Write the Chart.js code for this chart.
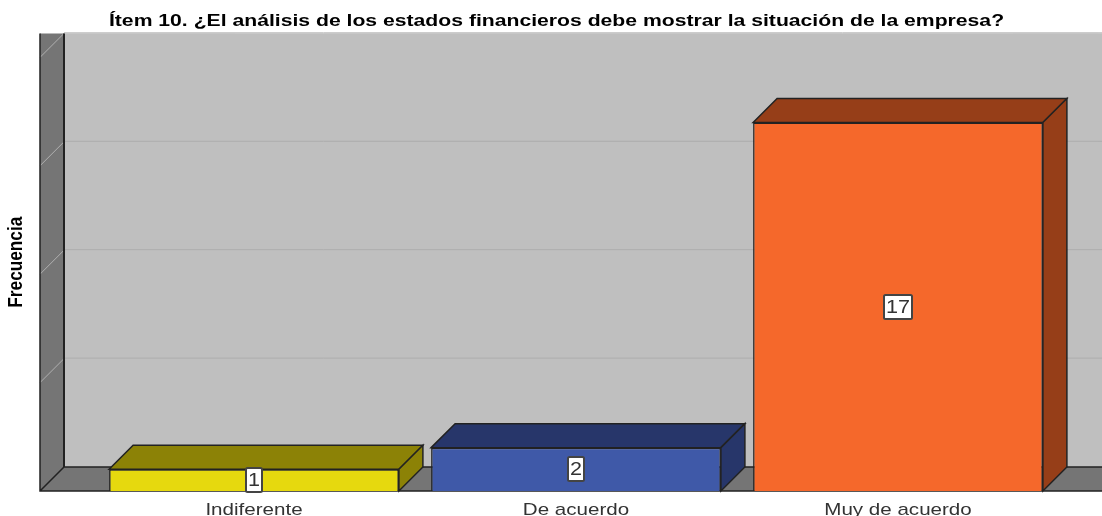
<!DOCTYPE html>
<html>
<head>
<meta charset="utf-8">
<title>Ítem 10</title>
<script src="https://cdn.jsdelivr.net/npm/chart.js@4"></script>
<style>
    html, body { margin: 0; padding: 0; background: #fff; overflow: hidden; }
    canvas { display: block; }
</style>
</head>
<body>
<canvas id="chart" width="1102" height="516"></canvas>
<script>
var TITLE = 'Ítem 10. ¿El análisis de los estados financieros debe mostrar la situación de la empresa?';
var Y_TITLE = 'Frecuencia';
var categories = ['Indiferente', 'De acuerdo', 'Muy de acuerdo'];
var values = [1, 2, 17];
var frontColors = ['#e6d90e', '#3f59a8', '#f5682b'];
var shadeColors = ['#8c8206', '#27366a', '#963e18'];

var DEPTH = 24;      // 3D offset of the back plane
var WALL_LEFT = 53;  // distance from the first category edge to the wall
var LINE = '#222222';

// the reference text is stretched sideways, no installed font is that wide
function withStretch(ctx, sx, dx, fn) {
    var fillText = ctx.fillText;
    ctx.fillText = function (text, x, y) {
        this.save();
        this.translate(x + dx, y);
        this.scale(sx, 1);
        fillText.call(this, text, 0, 0);
        this.restore();
    };
    fn();
    delete ctx.fillText;
}

function wrapDraw(owner, method, ctx, sx, dx) {
    var orig = owner[method];
    owner[method] = function () {
        var self = this, args = arguments;
        withStretch(ctx, sx, dx, function () { orig.apply(self, args); });
    };
}

function poly(ctx, pts, fill, stroke, width) {
    ctx.beginPath();
    ctx.moveTo(pts[0][0], pts[0][1]);
    for (var i = 1; i < pts.length; i++) ctx.lineTo(pts[i][0], pts[i][1]);
    ctx.closePath();
    if (fill) { ctx.fillStyle = fill; ctx.fill(); }
    if (stroke) { ctx.strokeStyle = stroke; ctx.lineWidth = width || 1.5; ctx.stroke(); }
}

var room3d = {
    id: 'room3d',
    afterLayout: function (chart) {
        wrapDraw(chart.titleBlock, 'draw', chart.ctx, 1.245, 25);
        wrapDraw(chart.scales.x, 'drawLabels', chart.ctx, 1.21, 0);
        wrapDraw(chart.scales.y, 'drawTitle', chart.ctx, 0.82, 12);
    },
    beforeDatasetsDraw: function (chart) {
        var ctx = chart.ctx, a = chart.chartArea, y = chart.scales.y;
        var x0 = a.left - WALL_LEFT, x1 = x0 + DEPTH, right = chart.width;
        var top = a.top - DEPTH, bottom = a.bottom;
        ctx.save();
        // back wall, side wall, floor
        ctx.fillStyle = '#bfbfbf';
        ctx.fillRect(x1, top, right - x1, bottom - DEPTH - top);
        poly(ctx, [[x0, top], [x1, top], [x1, bottom - DEPTH], [x0, bottom]], '#757575');
        poly(ctx, [[x0, bottom], [x1, bottom - DEPTH], [right + 2, bottom - DEPTH], [right + 2, bottom]], '#757575');
        // gridlines on the back wall, diagonals on the side wall
        y.ticks.forEach(function (t) {
            if (t.value === 0) return;
            var py = y.getPixelForValue(t.value);
            ctx.strokeStyle = '#adadad';
            ctx.lineWidth = 1;
            ctx.beginPath();
            ctx.moveTo(x1, py - DEPTH - 0.5);
            ctx.lineTo(right, py - DEPTH - 0.5);
            ctx.stroke();
            ctx.strokeStyle = '#b0b0b0';
            ctx.beginPath();
            ctx.moveTo(x0, py);
            ctx.lineTo(x1, py - DEPTH);
            ctx.stroke();
        });
        ctx.strokeStyle = LINE;
        ctx.lineWidth = 1.5;
        ctx.beginPath();
        ctx.moveTo(x0, top);
        ctx.lineTo(x0, bottom);
        ctx.lineTo(right, bottom);
        ctx.moveTo(x0, bottom);
        ctx.lineTo(x1, bottom - DEPTH);
        ctx.lineTo(right, bottom - DEPTH);
        ctx.stroke();
        ctx.lineWidth = 2;
        ctx.beginPath();
        ctx.moveTo(x1, top);
        ctx.lineTo(x1, bottom - DEPTH);
        ctx.stroke();
        // top and side faces of the bars
        chart.getDatasetMeta(0).data.forEach(function (bar, i) {
            var l = bar.x - bar.width / 2, r = bar.x + bar.width / 2;
            poly(ctx, [[l, bar.y], [l + DEPTH, bar.y - DEPTH], [r + DEPTH, bar.y - DEPTH], [r, bar.y]], shadeColors[i], LINE);
            poly(ctx, [[r, bar.y], [r + DEPTH, bar.y - DEPTH], [r + DEPTH, bar.base - DEPTH], [r, bar.base]], shadeColors[i], LINE);
        });
        ctx.restore();
    },
    afterDatasetsDraw: function (chart) {
        var ctx = chart.ctx, stretch = 1.2;
        ctx.save();
        ctx.font = '18px "Liberation Sans"';
        ctx.textAlign = 'center';
        ctx.textBaseline = 'middle';
        chart.getDatasetMeta(0).data.forEach(function (bar, i) {
            var text = String(values[i]);
            var w = Math.round(ctx.measureText(text).width * stretch + 4);
            var h = 24;
            var cy = (bar.y + bar.base) / 2;
            ctx.fillStyle = '#ffffff';
            ctx.strokeStyle = '#444444';
            ctx.lineWidth = 2;
            ctx.beginPath();
            ctx.roundRect(Math.round(bar.x - w / 2), Math.round(cy - h / 2), w, h, 1.5);
            ctx.fill();
            ctx.stroke();
            ctx.fillStyle = '#333333';
            withStretch(ctx, stretch, 0, function () { ctx.fillText(text, bar.x, cy + 1); });
        });
        ctx.restore();
    }
};

new Chart(document.getElementById('chart'), {
    type: 'bar',
    data: {
        labels: categories,
        datasets: [{
            data: values,
            backgroundColor: frontColors,
            borderColor: LINE,
            borderWidth: 1.5,
            barPercentage: 0.9,
            categoryPercentage: 1,
        }],
    },
    plugins: [room3d],
    options: {
        responsive: false,
        animation: false,
        layout: { padding: { left: 4, right: 43, top: 0, bottom: 0 } },
        plugins: {
            legend: { display: false },
            tooltip: { enabled: false },
            title: {
                display: true,
                text: TITLE,
                color: '#000000',
                font: { family: '"Liberation Sans"', size: 17, weight: 'bold' },
                padding: { top: 11, bottom: 26 },
            },
        },
        scales: {
            x: {
                grid: { display: false },
                border: { display: false },
                ticks: {
                    color: '#333333',
                    padding: 1,
                    maxRotation: 0,
                    font: { family: '"Liberation Sans"', size: 17 },
                },
                afterFit: function (scale) { scale.height = 25; },
            },
            y: {
                min: 0,
                max: 20,
                grid: { display: false },
                border: { display: false },
                ticks: { display: false, stepSize: 5 },
                title: {
                    display: true,
                    text: Y_TITLE,
                    color: '#000000',
                    font: { family: '"Liberation Sans"', size: 21, weight: 'bold' },
                    padding: 0,
                },
                afterFit: function (scale) { scale.width = 89; },
            },
        },
    },
});
</script>
</body>
</html>
